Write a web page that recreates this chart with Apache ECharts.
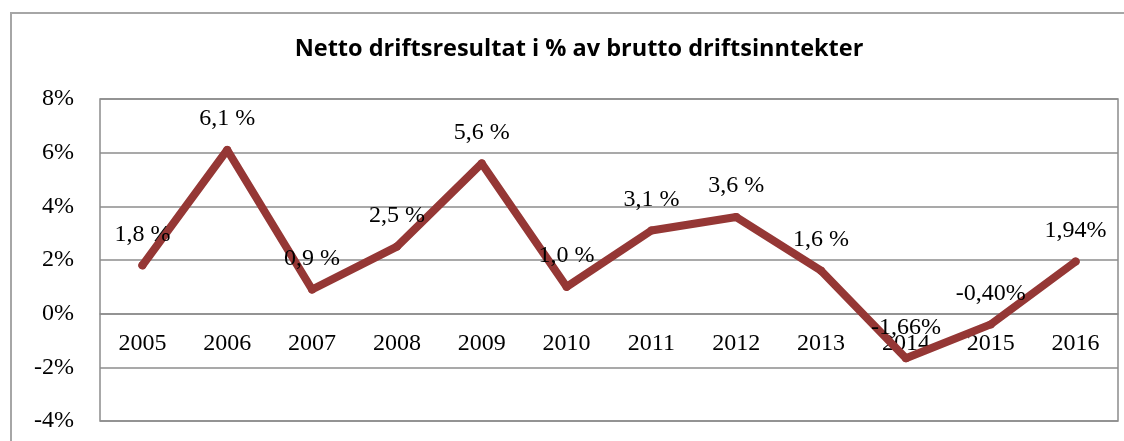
<!DOCTYPE html>
<html>
<head>
<meta charset="utf-8">
<script src="https://cdn.jsdelivr.net/npm/echarts@6/dist/echarts.min.js"></script>
<style>
  html, body { margin: 0; padding: 0; background: #fff; }
  .frame { position: absolute; left: 10px; top: 12px; width: 1140px; height: 460px; border: 2px solid #a6a6a6; box-sizing: border-box; }
  .linje { position: absolute; left: 0; top: 0; width: 1124px; height: 441px; }
</style>
</head>
<body>
<div class="frame"></div>
<div class="linje"></div>
<script>
// år og netto driftsresultat (%)
var aar = ['2005', '2006', '2007', '2008', '2009', '2010', '2011', '2012', '2013', '2014', '2015', '2016'];
var verdier = [1.8, 6.1, 0.9, 2.5, 5.6, 1.0, 3.1, 3.6, 1.6, -1.66, -0.40, 1.94];
var etiketter = ['1,8 %', '6,1 %', '0,9 %', '2,5 %', '5,6 %', '1,0 %', '3,1 %', '3,6 %', '1,6 %', '-1,66%', '-0,40%', '1,94%'];

var myChart = echarts.init(document.getElementsByClassName('linje')[0]);

myChart.setOption({
    animation: false,
    title: {
        text: 'Netto driftsresultat i % av brutto driftsinntekter',
        left: 574,
        textAlign: 'center',
        top: 32,
        textStyle: { fontFamily: 'Open Sans', fontWeight: 'bold', fontSize: 23.5, color: '#000' }
    },
    grid: {
        left: 100, top: 99, right: 6, bottom: 20,
        outerBoundsMode: 'none',
        show: true, borderColor: '#8c8c8c', borderWidth: 1.5
    },
    xAxis: {
        type: 'category',
        data: aar,
        offset: -107,
        axisLine: { onZero: false, lineStyle: { color: '#8c8c8c', width: 1.5 } },
        axisTick: { show: false },
        axisLabel: { margin: 18, fontFamily: 'Liberation Serif', fontSize: 24, color: '#000' }
    },
    yAxis: {
        type: 'value',
        min: -4, max: 8, interval: 2,
        axisLine: { show: false },
        axisTick: { show: false },
        splitLine: { lineStyle: { color: '#8c8c8c', width: 1.5 } },
        axisLabel: { margin: 26, formatter: '{value}%', fontFamily: 'Liberation Serif', fontSize: 24, color: '#000' }
    },
    series: [
        {
            type: 'line',
            data: verdier,
            symbol: 'circle',
            symbolSize: 8,
            itemStyle: { color: '#953735' },
            lineStyle: { color: '#953735', width: 8, cap: 'round', join: 'round' },
            label: {
                show: true,
                position: 'top',
                distance: 15,
                fontFamily: 'Liberation Serif',
                fontSize: 24,
                color: '#000',
                formatter: function (p) { return etiketter[p.dataIndex]; }
            }
        }
    ]
});
</script>
</body>
</html>
